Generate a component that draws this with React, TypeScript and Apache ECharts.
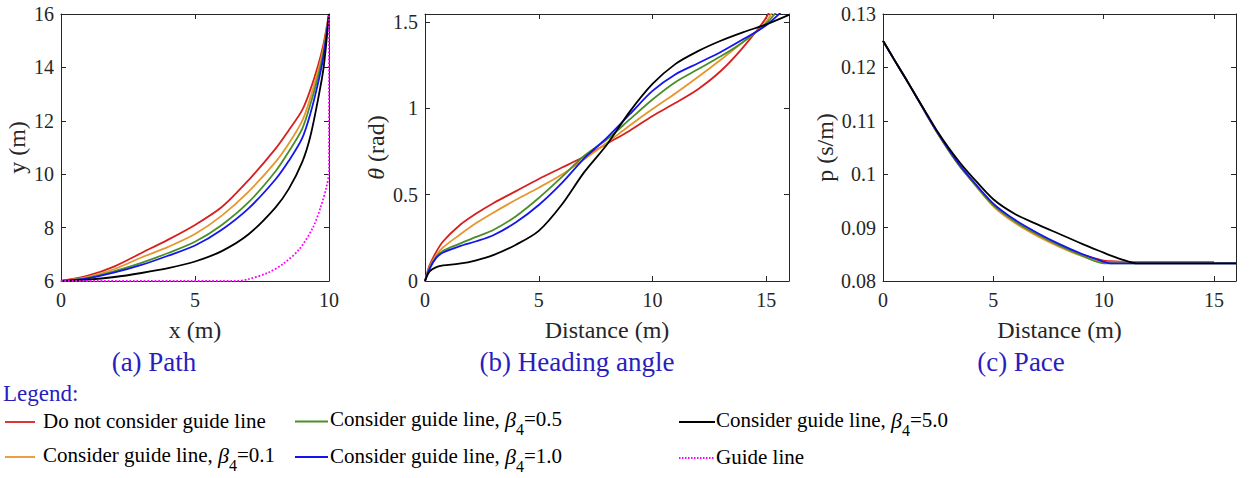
import React, { useEffect, useRef } from "react";
import * as echarts from "echarts";

// ---------- data ----------
const seriesNames = [
  "Do not consider guide line",
  "Consider guide line, β4=0.1",
  "Consider guide line, β4=0.5",
  "Consider guide line, β4=1.0",
  "Consider guide line, β4=5.0",
  "Guide line",
];

// (a) Path
const pathX = [0, 1, 2, 3, 4, 5, 6, 7, 8, 8.5, 9, 9.3, 9.6, 9.8, 10];
const pathRed = [6, 6.2, 6.55, 7.05, 7.55, 8.1, 8.77, 9.78, 10.95, 11.65, 12.4, 13.15, 14.1, 14.9, 16];
const pathOrange = [6, 6.15, 6.45, 6.88, 7.28, 7.76, 8.45, 9.35, 10.45, 11.15, 12.0, 12.85, 13.9, 14.75, 16];
const pathGreen = [6, 6.12, 6.37, 6.68, 7.05, 7.47, 8.1, 8.95, 10.1, 10.85, 11.7, 12.6, 13.7, 14.6, 16];
const pathBlue = [6, 6.1, 6.32, 6.6, 6.95, 7.33, 7.92, 8.72, 9.8, 10.5, 11.35, 12.25, 13.45, 14.45, 16];
const pathBlack = [6, 6.05, 6.15, 6.3, 6.48, 6.73, 7.12, 7.75, 8.75, 9.45, 10.45, 11.4, 12.85, 14.0, 16];
const guideX = [0, 6.5, 7, 7.7, 8.3, 8.9, 9.4, 9.7, 9.9, 10, 10];
const guideY = [6, 6, 6.07, 6.3, 6.65, 7.2, 8.0, 8.8, 9.5, 10.1, 16];

// (b) Heading angle
const headX = [0, 0.2, 0.5, 0.8, 1.5, 2.25, 3, 4, 5, 6, 7, 8, 9, 10, 11, 12, 13, 14, 15, 16];
const headRed = [0, 0.09, 0.17, 0.23, 0.32, 0.39, 0.45, 0.52, 0.59, 0.655, 0.72, 0.795, 0.87, 0.955, 1.03, 1.11, 1.215, 1.355, 1.525, 1.8];
const headOrange = [0, 0.08, 0.15, 0.195, 0.265, 0.335, 0.395, 0.47, 0.54, 0.615, 0.705, 0.8, 0.9, 0.995, 1.085, 1.18, 1.28, 1.385, 1.5, 1.75];
const headGreen = [0, 0.075, 0.14, 0.175, 0.215, 0.255, 0.295, 0.375, 0.48, 0.6, 0.725, 0.82, 0.935, 1.05, 1.15, 1.225, 1.3, 1.385, 1.49, 1.65];
const headBlue = [0, 0.07, 0.135, 0.165, 0.2, 0.23, 0.265, 0.34, 0.44, 0.565, 0.71, 0.83, 0.965, 1.1, 1.195, 1.26, 1.325, 1.4, 1.48, 1.6];
const headBlack = [0, 0.055, 0.08, 0.09, 0.1, 0.12, 0.15, 0.21, 0.29, 0.44, 0.63, 0.79, 0.98, 1.14, 1.255, 1.33, 1.39, 1.44, 1.485, 1.54];

// (c) Pace
const paceX = [0, 0.5, 1, 1.5, 2, 2.5, 3, 3.5, 4, 5, 6, 7, 8, 9, 10, 10.3, 11, 11.5, 12, 15, 16];
const paceRed = [0.125, 0.1215, 0.1181, 0.1146, 0.111, 0.1075, 0.1043, 0.1014, 0.0989, 0.0942, 0.091, 0.0886, 0.0866, 0.085, 0.0838, 0.0837, 0.0836, 0.0836, 0.0836, 0.0836, null];
const paceOrange = [0.125, 0.1215, 0.1181, 0.1146, 0.111, 0.1075, 0.1043, 0.1014, 0.0989, 0.094, 0.0908, 0.0884, 0.0864, 0.0847, 0.0835, 0.0835, 0.0835, 0.0835, 0.0835, 0.0835, null];
const paceGreen = [0.125, 0.1215, 0.1181, 0.1146, 0.111, 0.1075, 0.1043, 0.1014, 0.0989, 0.0942, 0.0911, 0.0887, 0.0866, 0.0848, 0.0833, 0.0833, 0.0833, 0.0833, 0.0833, 0.0833, 0.0833];
const paceBlue = [0.125, 0.1215, 0.1181, 0.1146, 0.111, 0.1076, 0.1045, 0.1016, 0.0991, 0.0945, 0.0914, 0.089, 0.0869, 0.0851, 0.0836, 0.0833, 0.0833, 0.0833, 0.0833, 0.0833, 0.0833];
const paceBlack = [0.125, 0.1215, 0.1181, 0.1146, 0.1112, 0.1078, 0.1048, 0.1021, 0.0997, 0.0953, 0.0925, 0.0906, 0.0888, 0.087, 0.0853, 0.0848, 0.0838, 0.0833, 0.0833, 0.0833, 0.0833];

const panelTitles = ["(a) Path", "(b) Heading angle", "(c) Pace"];

// ---------- styles ----------
const FONT = "Liberation Serif";
const AX = "#262626";
const TITLE_COLOR = "#2a1dbf";
const COLORS = ["#d62020", "#e6962e", "#4a8f26", "#1414f0", "#000000", "#ff00ff"];

const fmt = (v: number) => String(parseFloat(v.toFixed(3)));

function axisPair(dim: "x" | "y", gridIndex: number, min: number, max: number, interval: number, name: string, nameGap: number) {
  const common = {
    type: "value",
    gridIndex,
    min,
    max,
    interval,
    splitLine: { show: false },
    axisLine: { show: true, onZero: false, lineStyle: { color: AX, width: 1 } },
    axisTick: { show: true, inside: true, length: 5, lineStyle: { color: AX, width: 1 } },
  };
  const main = {
    ...common,
    position: dim === "x" ? "bottom" : "left",
    name,
    nameLocation: "middle",
    nameGap,
    nameTextStyle: { fontFamily: FONT, fontSize: 24, color: AX, rich: { i: { fontFamily: FONT, fontSize: 24, fontStyle: "italic", color: AX } } },
    axisLabel: {
      fontFamily: FONT,
      fontSize: 20,
      color: AX,
      margin: dim === "x" ? 9 : 7,
      formatter: (v: number) => {
        const k = (v - min) / interval;
        return Math.abs(k - Math.round(k)) < 1e-6 ? fmt(v) : "";
      },
    },
  };
  const mirror = {
    ...common,
    position: dim === "x" ? "top" : "right",
    axisLabel: { show: false },
  };
  return [main, mirror];
}

function pairs(xs: number[], ys: (number | null)[]) {
  return xs.map((x, i) => [x, ys[i]]);
}

function lineSeries(idx: number, grid: number, data: any[], opts: any = {}) {
  return {
    type: "line",
    name: seriesNames[idx],
    xAxisIndex: grid * 2,
    yAxisIndex: grid * 2,
    data,
    showSymbol: false,
    symbol: "none",
    clip: true,
    lineStyle: { color: COLORS[idx], width: 1.8, type: idx === 5 ? "dotted" : "solid" },
    itemStyle: { color: COLORS[idx] },
    ...opts,
  };
}

function legendText(x: number, y: number, text: string) {
  return {
    type: "text",
    x,
    y,
    style: {
      text,
      fontFamily: FONT,
      fontSize: 21,
      lineHeight: 36,
      fill: "#000",
      align: "left",
      verticalAlign: "middle",
      textAlign: "left",
      textVerticalAlign: "middle",
      rich: {
        b: { fontFamily: FONT, fontSize: 22, fontStyle: "italic", lineHeight: 36, fill: "#000" },
        s: { fontFamily: FONT, fontSize: 16, lineHeight: 14, verticalAlign: "bottom", fill: "#000" },
      },
    },
  };
}

function legendLine(x1: number, x2: number, y: number, idx: number) {
  return {
    type: "line",
    shape: { x1, y1: y, x2, y2: y },
    style: { stroke: COLORS[idx], lineWidth: idx === 5 ? 2 : 1.8, lineDash: idx === 5 ? [1.5, 1.5] : null },
  };
}

function titleText(x: number, y: number, text: string, size: number, align = "center") {
  return {
    type: "text",
    x,
    y,
    style: {
      text,
      fontFamily: FONT,
      fontSize: size,
      fill: TITLE_COLOR,
      align,
      verticalAlign: "middle",
      textAlign: align,
      textVerticalAlign: "middle",
    },
  };
}

export default function App() {
  const ref = useRef<HTMLDivElement>(null);
  useEffect(() => {
    if (!ref.current) return;
    const chart = echarts.init(ref.current, undefined, { renderer: "svg" });
    const grids = [
      { left: 61, top: 14, width: 268, height: 267 },
      { left: 425, top: 14, width: 364, height: 267 },
      { left: 883, top: 14, width: 353, height: 267 },
    ];
    const xAxes = [
      ...axisPair("x", 0, 0, 10, 5, "x (m)", 37),
      ...axisPair("x", 1, 0, 16, 5, "Distance (m)", 37),
      ...axisPair("x", 2, 0, 16, 5, "Distance (m)", 37),
    ];
    const yAxes = [
      ...axisPair("y", 0, 6, 16, 2, "y (m)", 32),
      ...axisPair("y", 1, 0, 1.545, 0.5, "{i|θ} (rad)", 37),
      ...axisPair("y", 2, 0.08, 0.13, 0.01, "p (s/m)", 41),
    ];
    const smoothOpt = { smooth: 0.3 };
    const series = [
      lineSeries(0, 0, pairs(pathX, pathRed), smoothOpt),
      lineSeries(1, 0, pairs(pathX, pathOrange), smoothOpt),
      lineSeries(2, 0, pairs(pathX, pathGreen), smoothOpt),
      lineSeries(3, 0, pairs(pathX, pathBlue), smoothOpt),
      lineSeries(4, 0, pairs(pathX, pathBlack), smoothOpt),
      lineSeries(5, 0, pairs(guideX, guideY), { smooth: 0.3 }),
      lineSeries(0, 1, pairs(headX, headRed), smoothOpt),
      lineSeries(1, 1, pairs(headX, headOrange), smoothOpt),
      lineSeries(2, 1, pairs(headX, headGreen), smoothOpt),
      lineSeries(3, 1, pairs(headX, headBlue), smoothOpt),
      lineSeries(4, 1, pairs(headX, headBlack), smoothOpt),
      lineSeries(0, 2, pairs(paceX, paceRed), smoothOpt),
      lineSeries(1, 2, pairs(paceX, paceOrange), smoothOpt),
      lineSeries(2, 2, pairs(paceX, paceGreen), smoothOpt),
      lineSeries(3, 2, pairs(paceX, paceBlue), smoothOpt),
      lineSeries(4, 2, pairs(paceX, paceBlack), smoothOpt),
    ];
    const sub = (label: string) => label.replace("β4", "{b|β}{s|4}");
    const graphic = [
      titleText(154, 362, panelTitles[0], 27),
      titleText(577, 362, panelTitles[1], 27),
      titleText(1021, 362, panelTitles[2], 27),
      titleText(3, 393, "Legend:", 23, "left"),
      legendLine(5, 35, 422, 0),
      legendText(43, 421, sub(seriesNames[0])),
      legendLine(5, 35, 457, 1),
      legendText(43, 455, sub(seriesNames[1])),
      legendLine(295, 328, 421.5, 2),
      legendText(330, 419, sub(seriesNames[2])),
      legendLine(295, 328, 457, 3),
      legendText(330, 456, sub(seriesNames[3])),
      legendLine(679, 715, 422, 4),
      legendText(716, 420, sub(seriesNames[4])),
      legendLine(679, 715, 458, 5),
      legendText(716, 457, sub(seriesNames[5])),
    ];
    chart.setOption({
      animation: false,
      backgroundColor: "#ffffff",
      grid: grids,
      xAxis: xAxes,
      yAxis: yAxes,
      series,
      graphic,
    });
    return () => chart.dispose();
  }, []);
  return (
    <div
      ref={ref}
      style={{ position: "fixed", left: 0, top: 0, width: 1253, height: 478, background: "#fff" }}
    />
  );
}
